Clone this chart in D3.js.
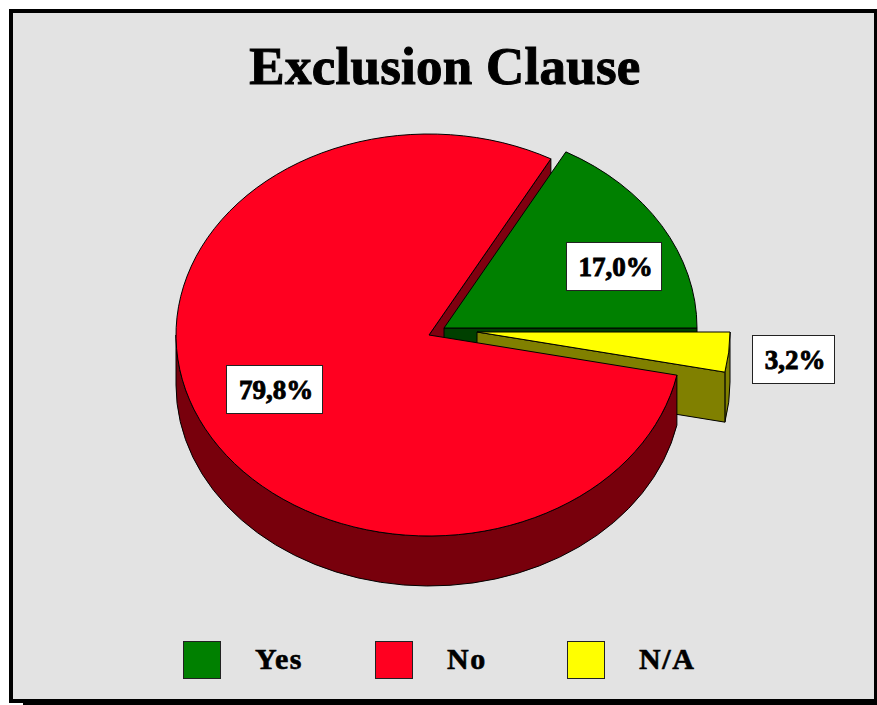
<!DOCTYPE html>
<html>
<head>
<meta charset="utf-8">
<script src="https://cdn.jsdelivr.net/npm/d3@7"></script>
<style>
  html, body { margin: 0; padding: 0; background: #fff; }
  svg { display: block; }
  text { font-family: "Liberation Serif", serif; font-weight: bold; fill: #000; stroke: #000; }
</style>
</head>
<body>
<script>
var titleText = "Exclusion Clause";
var categories = ["Yes", "No", "N/A"];
var values = [17.0, 79.8, 3.2];
var valueLabels = ["17,0%", "79,8%", "3,2%"];
var topColors = ["#008000", "#ff0020", "#ffff00"];
var wallColors = ["#004000", "#800010", "#808000"];
var rimColors = ["#004000", "#78000c", "#808000"];

var width = 877, height = 705;
var rx = 253, ry = 201, depth = 50;

// centre of each top face, slices are pulled apart by different amounts
var centers = [[444, 328], [429, 335], [477, 332]];
// label box centres
var labelPos = [[613.5, 266], [274, 389], [793, 359]];
var labelSize = [[95, 48], [96, 48], [82, 48]];

var svg = d3.select("body").append("svg")
    .attr("width", width)
    .attr("height", height);

// frame
svg.append("rect").attr("x", 23).attr("y", 20).attr("width", 854).attr("height", 685).attr("fill", "#000");
svg.append("rect").attr("x", 9).attr("y", 9).attr("width", 868).attr("height", 694).attr("fill", "#000");
svg.append("rect").attr("x", 13).attr("y", 13).attr("width", 861).attr("height", 686).attr("fill", "#e3e3e3");

svg.append("text")
    .attr("x", 445)
    .attr("y", 84)
    .attr("text-anchor", "middle")
    .attr("font-size", 53)
    .attr("letter-spacing", 0.25)
    .attr("stroke-width", 1)
    .text(titleText);

// angles run counter clockwise from 3 o'clock
var pie = d3.pie().sort(null).startAngle(0).endAngle(2 * Math.PI);
var slices = pie(values);

function pt(i, a, drop) {
    return [centers[i][0] + rx * Math.cos(a), centers[i][1] - ry * Math.sin(a) + (drop || 0)];
}

function topPath(i, a0, a1) {
    var p0 = pt(i, a0), p1 = pt(i, a1);
    var large = a1 - a0 > Math.PI ? 1 : 0;
    return "M" + centers[i] + "L" + p0 + "A" + rx + "," + ry + " 0 " + large + " 0 " + p1 + "Z";
}

function wallPath(i, a) {
    var c = centers[i], p = pt(i, a);
    return "M" + c + "L" + p + "L" + [p[0], p[1] + depth] + "L" + [c[0], c[1] + depth] + "Z";
}

function rimPath(i, a0, a1) {
    var p0 = pt(i, a0), p1 = pt(i, a1);
    var r = rx + "," + ry + " 0 0 ";
    return "M" + p0 + "A" + r + "0 " + p1 + "L" + [p1[0], p1[1] + depth]
        + "A" + r + "1 " + [p0[0], p0[1] + depth] + "Z";
}

function draw(d, fill) {
    svg.append("path")
        .attr("d", d)
        .attr("fill", fill)
        .attr("stroke", "#000")
        .attr("stroke-width", 1)
        .attr("stroke-linejoin", "round");
}

var yes = slices[0], no = slices[1], na = slices[2];

// back to front
draw(wallPath(1, no.startAngle), wallColors[1]);
draw(wallPath(0, yes.startAngle), wallColors[0]);
draw(topPath(0, yes.startAngle, yes.endAngle), topColors[0]);
draw(rimPath(2, na.startAngle, na.endAngle), rimColors[2]);
draw(wallPath(2, na.startAngle), wallColors[2]);
draw(topPath(2, na.startAngle, na.endAngle), topColors[2]);
draw(rimPath(1, Math.PI, no.endAngle), rimColors[1]);
draw(topPath(1, no.startAngle, no.endAngle), topColors[1]);

// value labels
valueLabels.forEach(function(t, i) {
    var s = labelSize[i], p = labelPos[i];
    svg.append("rect")
        .attr("x", p[0] - s[0] / 2 + 0.5)
        .attr("y", p[1] - s[1] / 2 + 0.5)
        .attr("width", s[0])
        .attr("height", s[1])
        .attr("fill", "#fff")
        .attr("stroke", "#222")
        .attr("stroke-width", 1);
    svg.append("text")
        .attr("x", p[0] + 2)
        .attr("y", p[1] + 9.5)
        .attr("text-anchor", "middle")
        .attr("font-size", 27)
        .attr("stroke-width", 0.9)
        .text(t);
});

// legend
var legendX = d3.scalePoint().domain(categories).range([183, 567]);

categories.forEach(function(c, i) {
    svg.append("rect")
        .attr("x", legendX(c) + 0.5)
        .attr("y", 641.5)
        .attr("width", 37)
        .attr("height", 37)
        .attr("fill", topColors[i])
        .attr("stroke", "#222")
        .attr("stroke-width", 1);
    svg.append("text")
        .attr("x", legendX(c) + 72)
        .attr("y", 669)
        .attr("font-size", 30)
        .attr("letter-spacing", 1.6)
        .attr("stroke-width", 0.6)
        .text(c);
});
</script>
</body>
</html>
